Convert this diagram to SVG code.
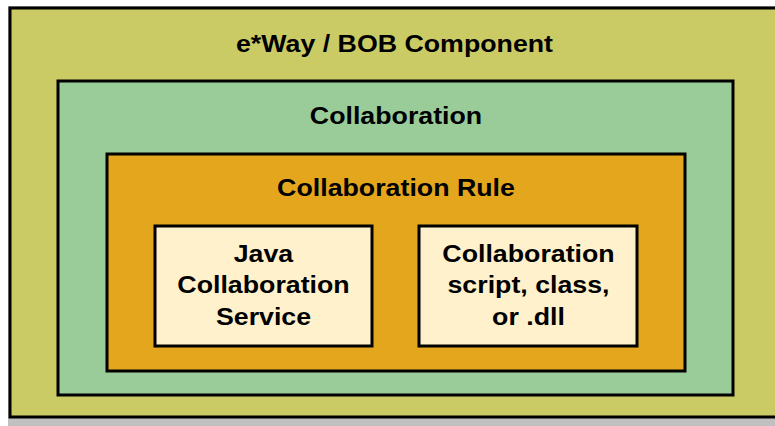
<svg xmlns="http://www.w3.org/2000/svg" width="775" height="426" viewBox="0 0 775 426">
<style>
.box{stroke:#000;stroke-width:3}
.t{font-family:"Liberation Sans",Arial,sans-serif;font-weight:bold;font-size:24px;fill:#000;text-anchor:middle}
</style>
<rect width="775" height="426" fill="#ffffff"/>
<rect x="8" y="6" width="780" height="430" fill="#c0c0c0"/>
<g id="eway">
<rect class="box" x="10" y="8" width="780" height="409" fill="#cbcb66"/>
<g transform="translate(394.5,0) scale(1.115,1)"><text class="t" x="0" y="52.5">e*Way / BOB Component</text></g>
</g>
<g id="collaboration">
<rect class="box" x="58" y="81" width="675" height="314" fill="#99cc99"/>
<g transform="translate(396,0) scale(1.115,1)"><text class="t" x="0" y="124.5">Collaboration</text></g>
</g>
<g id="rule">
<rect class="box" x="107" y="154" width="578" height="217" fill="#e4a61c"/>
<g transform="translate(396,0) scale(1.115,1)"><text class="t" x="0" y="196.5">Collaboration Rule</text></g>
</g>
<g id="java">
<rect class="box" x="155" y="226" width="217" height="120" fill="#fff1cc"/>
<g transform="translate(263.5,0) scale(1.115,1)">
<text class="t" x="0" y="262">Java</text>
<text class="t" x="0" y="293.5">Collaboration</text>
<text class="t" x="0" y="325.5">Service</text>
</g>
</g>
<g id="script">
<rect class="box" x="419" y="226" width="218" height="120" fill="#fff1cc"/>
<g transform="translate(528.5,0) scale(1.115,1)">
<text class="t" x="0" y="262">Collaboration</text>
<text class="t" x="0" y="293.5">script, class,</text>
<text class="t" x="0" y="325.5">or .dll</text>
</g>
</g>
<g id="connectors"></g>
</svg>
